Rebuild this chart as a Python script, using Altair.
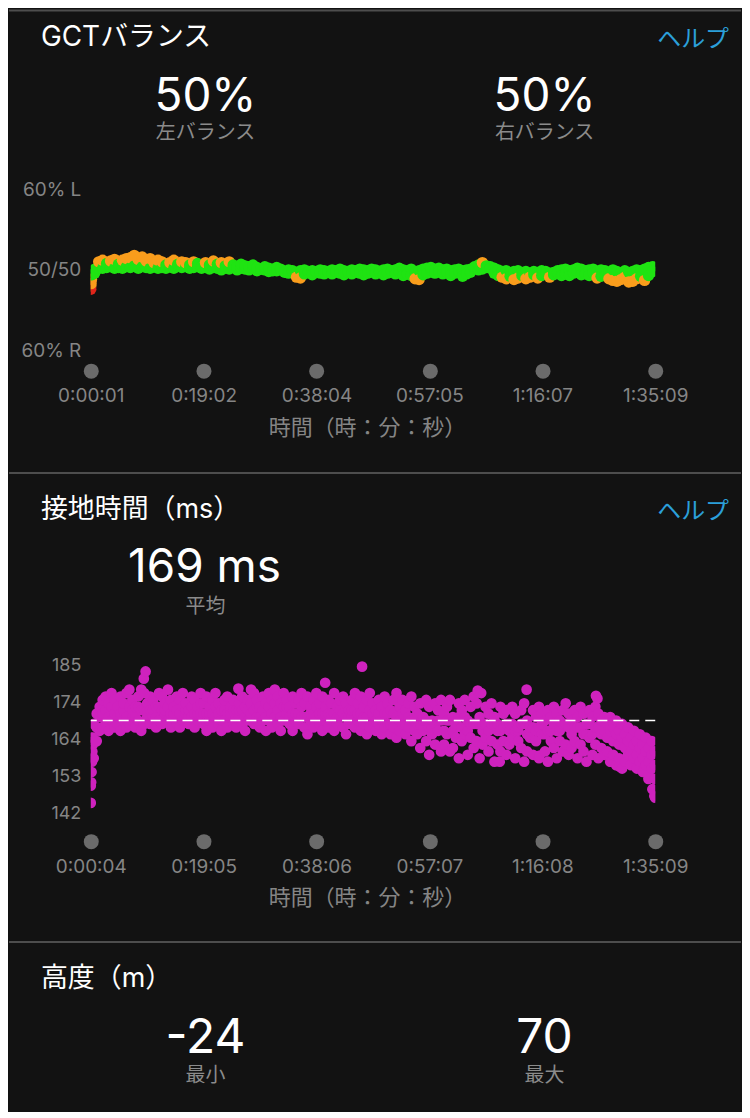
import altair as alt
import pandas as pd

# ------------------------------------------------------------------ values
left_balance = 50
right_balance = 50
avg_contact = 169
elev_min = -24
elev_max = 70

gct_xticks = [1, 1142, 2284, 3425, 4567, 5709]
ct_xticks = [4, 1145, 2286, 3427, 4568, 5709]
gct_yticks = [40, 50, 60]
gct_ylabels = ["60% R", "50/50", "60% L"]
ct_yticks = [142, 152.75, 163.5, 174.25, 185]

# GCT balance (left %), sampled every 40 s
gct_t = list(range(1, 5710, 40))
gct_a = [48.9, 50.1, 50.2, 50.2, 50.3, 50.4, 50.2, 50.3, 50.2, 50.4,
         50.3, 50.5, 50.2, 50.4, 50.3, 50.2, 50.4, 50.2, 50.3, 50.2,
         50.4, 50.2, 50.5, 50.3, 50.4, 50.2, 50.3, 50.4, 50.2, 50.3,
         50.1, 50.3, 50.2, 50.0, 50.2, 50.1, 50.3, 50.0, 50.2, 50.1,
         50.0, 50.2, 49.9, 50.1, 50.0, 49.8, 50.1, 49.9, 50.0, 49.8,
         50.0, 49.9, 49.7, 49.9, 50.0, 49.8, 49.9, 49.7, 50.0, 49.9,
         49.8, 50.0, 49.9, 50.1, 49.9, 49.8, 50.0, 49.9, 50.1, 50.0,
         49.9, 50.1, 50.0, 49.8, 50.0, 50.1, 49.9, 50.0, 50.2, 50.0,
         49.9, 50.1, 49.7, 49.9, 50.1, 50.2, 50.0, 50.1, 50.2, 50.0,
         50.1, 49.9, 50.0, 50.1, 49.9, 50.0, 50.1, 50.2, 50.0, 50.1,
         50.3, 50.4, 50.2, 50.0, 49.8, 49.9, 49.7, 49.8, 49.9, 49.7,
         49.8, 49.6, 49.8, 49.7, 49.9, 49.8, 49.6, 49.7, 49.9, 50.0,
         50.1, 49.9, 50.0, 50.2, 50.1, 49.9, 50.0, 50.1, 49.8, 50.0,
         49.9, 49.7, 50.0, 49.8, 49.6, 49.9, 49.7, 49.8, 50.0, 49.9,
         50.1, 50.3, 50.4]
gct_b = [48.0, 49.6, 51.0, 51.2, 50.8, 51.1, 51.3, 50.7, 51.2, 51.4,
         51.5, 51.8, 51.3, 51.6, 51.1, 51.4, 50.9, 51.2, 51.0, 50.6,
         50.9, 51.2, 50.7, 51.0, 50.9, 50.6, 51.0, 50.8, 50.5, 50.9,
         50.6, 51.1, 50.7, 50.9, 50.5, 51.0, 50.6, 50.4, 50.7, 50.5,
         50.4, 50.6, 50.3, 50.1, 50.4, 50.2, 49.9, 50.3, 50.1, 49.7,
         49.6, 49.8, 49.1, 49.0, 49.5, 49.7, 49.4, 49.8, 49.6, 49.5,
         49.7, 49.5, 49.8, 49.6, 49.4, 49.7, 49.5, 49.8, 49.6, 49.4,
         49.6, 49.8, 49.5, 49.7, 49.4, 49.6, 49.8, 49.5, 49.7, 49.3,
         49.5, 49.3, 48.9, 48.8, 49.4, 49.6, 50.3, 49.6, 49.8, 49.5,
         49.7, 49.3, 49.6, 49.8, 49.2, 49.5, 49.7, 50.4, 50.6, 50.9,
         50.5, 50.2, 49.6, 49.3, 49.1, 48.9, 49.2, 48.8, 49.0, 49.3,
         48.9, 49.1, 49.4, 49.0, 49.3, 49.5, 49.1, 49.4, 49.6, 49.3,
         49.5, 49.3, 49.6, 49.7, 49.4, 49.5, 49.3, 49.6, 49.0, 49.2,
         49.3, 48.9, 48.7, 48.6, 48.8, 49.1, 48.5, 48.6, 48.9, 49.2,
         48.7, 49.3, 49.8]
gct_extra_t = [1, 4, 8, 12]
gct_extra_v = [47.6, 48.3, 48.8, 49.4]

# ground contact time (ms), sampled every 30 s
ct_t = list(range(4, 5710, 30))
ct_hi = [164, 168, 171, 173, 175, 176, 174, 177, 175, 173,
         176, 174, 177, 178, 175, 173, 176, 178, 177, 174,
         176, 175, 173, 177, 176, 174, 178, 175, 173, 176,
         175, 177, 174, 172, 176, 175, 173, 177, 174, 176,
         173, 175, 177, 174, 172, 175, 176, 173, 175, 172,
         174, 176, 173, 175, 178, 177, 175, 173, 176, 174,
         177, 175, 178, 176, 174, 177, 175, 173, 176, 174,
         175, 177, 174, 176, 173, 175, 177, 174, 176, 173,
         175, 174, 177, 173, 175, 176, 174, 172, 175, 177,
         174, 176, 173, 175, 177, 174, 172, 175, 173, 176,
         174, 172, 175, 177, 173, 175, 172, 174, 176, 173,
         171, 174, 170, 175, 173, 169, 174, 172, 175, 171,
         173, 175, 170, 168, 174, 172, 175, 169, 173, 176,
         174, 170, 168, 173, 171, 174, 170, 168, 173, 171,
         172, 168, 173, 171, 167, 172, 174, 169, 167, 172,
         170, 173, 171, 169, 172, 170, 173, 171, 169, 172,
         174, 171, 169, 172, 170, 173, 171, 168, 172, 170,
         173, 171, 169, 170, 168, 170, 167, 169, 166, 168,
         165, 167, 164, 166, 163, 165, 162, 164, 161, 163,
         160]
ct_mid = [158, 163, 167, 170, 171, 172, 170, 173, 171, 170,
          171, 172, 170, 173, 172, 170, 173, 172, 172, 172,
          172, 172, 170, 173, 172, 172, 173, 171, 171, 172,
          171, 173, 172, 170, 173, 171, 171, 174, 171, 171,
          171, 171, 173, 171, 169, 172, 171, 171, 172, 170,
          172, 172, 170, 172, 174, 172, 173, 170, 172, 170,
          173, 171, 174, 172, 170, 173, 173, 170, 171, 171,
          171, 173, 170, 170, 171, 171, 173, 171, 171, 171,
          171, 171, 171, 170, 172, 171, 170, 170, 172, 172,
          171, 171, 170, 170, 172, 171, 169, 171, 169, 171,
          171, 168, 171, 170, 169, 171, 168, 170, 169, 169,
          168, 168, 169, 169, 167, 167, 168, 169, 169, 166,
          169, 169, 166, 167, 170, 167, 170, 166, 168, 168,
          168, 168, 166, 168, 166, 168, 168, 166, 166, 167,
          168, 166, 168, 166, 166, 168, 168, 165, 166, 167,
          166, 167, 168, 165, 166, 166, 168, 166, 166, 168,
          168, 167, 165, 167, 167, 167, 165, 165, 168, 165,
          167, 167, 165, 166, 164, 166, 163, 165, 162, 164,
          161, 163, 160, 162, 159, 161, 158, 160, 157, 159,
          156]
ct_lo = [150, 158, 163, 166, 167, 168, 166, 169, 167, 168,
         166, 169, 167, 168, 170, 167, 169, 166, 168, 170,
         168, 170, 167, 169, 168, 171, 169, 167, 170, 168,
         167, 169, 171, 168, 170, 167, 169, 171, 168, 166,
         169, 167, 170, 168, 166, 169, 167, 170, 168, 167,
         170, 168, 166, 169, 171, 168, 170, 167, 169, 166,
         169, 167, 170, 168, 166, 169, 171, 168, 166, 169,
         168, 170, 167, 165, 169, 167, 170, 168, 166, 169,
         167, 169, 166, 168, 170, 167, 165, 168, 170, 167,
         169, 166, 168, 165, 167, 169, 166, 168, 165, 167,
         168, 165, 167, 164, 166, 168, 165, 167, 163, 166,
         165, 161, 166, 163, 159, 165, 162, 166, 160, 162,
         165, 160, 161, 164, 158, 163, 165, 159, 164, 161,
         163, 158, 162, 164, 160, 163, 157, 162, 160, 163,
         159, 162, 164, 158, 163, 161, 157, 160, 164, 159,
         163, 158, 165, 160, 157, 163, 161, 158, 163, 160,
         162, 159, 161, 163, 158, 162, 160, 157, 164, 159,
         162, 158, 161, 159, 160, 157, 159, 156, 158, 155,
         157, 159, 156, 158, 155, 157, 154, 156, 153, 155,
         152]
ct_extra_t = [4, 8, 12, 16, 20, 24, 28, 558, 540, 1496, 2373, 2746, 3915,
              3950, 4409, 5125, 5110, 4137, 4540, 5346, 5266, 5640, 5680,
              5700, 5709]
ct_extra_v = [145, 151, 154, 157, 160, 162, 164, 183.3, 181.2, 178.3, 180,
              184.7, 177.7, 177, 178, 175.4, 176.2, 157, 158.8, 155.6, 157,
              152, 149, 147, 146.5]

# ------------------------------------------------------------------ tables
gct_rows = []
for t, a, b in zip(gct_t, gct_a, gct_b):
    gct_rows.append({"t": t, "bal": a})
    gct_rows.append({"t": t, "bal": b})
for t, v in zip(gct_extra_t, gct_extra_v):
    gct_rows.append({"t": t, "bal": v})
gct_df = pd.DataFrame(gct_rows).sort_values("t", kind="stable")

ct_rows = []
for t, h, m, l in zip(ct_t, ct_hi, ct_mid, ct_lo):
    ct_rows += [{"t": t, "ms": l}, {"t": t, "ms": m}, {"t": t, "ms": h}]
for t, v in zip(ct_extra_t, ct_extra_v):
    ct_rows.append({"t": t, "ms": v})
ct_df = pd.DataFrame(ct_rows).sort_values("t", kind="stable")
avg_df = pd.DataFrame({"avg": [avg_contact]})
one = pd.DataFrame({"k": [0]})

# ------------------------------------------------------------------ style
FONT = "Inter, 'Noto Sans CJK JP', sans-serif"
BG = "#121212"
WHITE = "#ffffff"
GREY = "#8b8b8b"
AXGREY = "#858585"
BLUE = "#2b9fd9"
LEFT = 90
W = 566
PAGE_L, PAGE_R = 8, 742


def txt(s, x, y, size, color, align="center"):
    return alt.Chart(one).mark_text(
        text=s, font=FONT, fontSize=size, color=color, align=align,
        baseline="alphabetic").encode(x=alt.value(x), y=alt.value(y))


def bg(y0, y1):
    return alt.Chart(one).mark_rect(color=BG).encode(
        x=alt.value(PAGE_L - LEFT), x2=alt.value(PAGE_R - LEFT),
        y=alt.value(y0), y2=alt.value(y1))


def sep(y):
    return alt.Chart(one).mark_rule(color="#4d4d4d", strokeWidth=2).encode(
        x=alt.value(PAGE_L - LEFT), x2=alt.value(PAGE_R - LEFT), y=alt.value(y))


def x_axis(ticks, dot_offset):
    return alt.Axis(
        values=ticks, labelExpr="utcFormat(datum.value * 1000, '%-H:%M:%S')",
        offset=dot_offset, domain=False, grid=False, ticks=True, tickSize=0.1,
        tickWidth=15, tickCap="round", tickColor="#6b6b6b",
        labelFont=FONT, labelFontSize=19, labelColor=AXGREY, labelPadding=31,
        labelBaseline="alphabetic", labelFlush=False, labelOverlap=False,
        title="時間（時：分：秒）", titleFont=FONT, titleFontSize=22,
        titleFontWeight="normal", titleColor=AXGREY, titleBaseline="alphabetic",
        titleY=64, titleX=277, zindex=1)


# ------------------------------------------------------------------ panel 1
g_lo, g_hi = 39, 61
g_px = 162 / 20
H1 = (g_hi - g_lo) * g_px
TOP1 = 188 - (g_hi - 60) * g_px
r1 = lambda py: py - TOP1

ylab_expr = " : ".join(
    f"datum.value == {v} ? '{s}'" for v, s in zip(gct_yticks[:-1], gct_ylabels[:-1])
) + f" : '{gct_ylabels[-1]}'"

gct_pts = alt.Chart(gct_df).transform_calculate(
    zone="abs(datum.bal - 50) > 2.2 ? 'R' : (abs(datum.bal - 50) > 0.8 ? 'O' : 'G')"
).mark_circle(size=130, opacity=1, clip=True).encode(
    x=alt.X("t:Q", scale=alt.Scale(domain=[gct_xticks[0], gct_xticks[-1]], nice=False, zero=False),
            axis=x_axis(gct_xticks, 370 - (TOP1 + H1))),
    y=alt.Y("bal:Q", scale=alt.Scale(domain=[g_lo, g_hi], nice=False, zero=False),
            axis=alt.Axis(values=gct_yticks, labelExpr=ylab_expr, domain=False, ticks=False,
                          grid=False, labelPadding=10, labelFont=FONT, labelFontSize=19,
                          labelColor=AXGREY, title=None, zindex=1)),
    color=alt.Color("zone:N", scale=alt.Scale(domain=["G", "O", "R"],
                                              range=["#1fe312", "#f99d1c", "#e0261b"]),
                    legend=None),
)

p1 = alt.layer(
    bg(r1(8), r1(470)),
    sep(r1(9)),
    txt("GCTバランス", 40 - LEFT, r1(45), 28, WHITE, "left"),
    txt("ヘルプ", 730 - LEFT, r1(46), 24, BLUE, "right"),
    txt(f"{left_balance}%", 205 - LEFT, r1(110), 46, WHITE),
    txt("左バランス", 205 - LEFT, r1(138), 20, GREY),
    txt(f"{right_balance}%", 545 - LEFT, r1(110), 46, WHITE),
    txt("右バランス", 545 - LEFT, r1(138), 20, GREY),
    gct_pts,
).properties(width=W, height=H1)

# ------------------------------------------------------------------ panel 2
c_lo, c_hi = 140, 187
c_px = 148 / 43
H2 = (c_hi - c_lo) * c_px
TOP2 = 664 - (c_hi - 185) * c_px
r2 = lambda py: py - TOP2

c_xscale = alt.Scale(domain=[ct_xticks[0], ct_xticks[-1]], nice=False, zero=False)
c_yscale = alt.Scale(domain=[c_lo, c_hi], nice=False, zero=False)

ct_pts = alt.Chart(ct_df).mark_circle(size=115, opacity=1, clip=True, color="#cf22be").encode(
    x=alt.X("t:Q", scale=c_xscale, axis=x_axis(ct_xticks, 840 - (TOP2 + H2))),
    y=alt.Y("ms:Q", scale=c_yscale,
            axis=alt.Axis(values=ct_yticks, labelExpr="round(datum.value)", domain=False,
                          ticks=False, grid=False, labelPadding=10, labelFont=FONT,
                          labelFontSize=18, labelColor=AXGREY, title=None, zindex=1)),
)
avg_rule = alt.Chart(avg_df).mark_rule(color=WHITE, strokeDash=[10, 6], strokeWidth=1.5).encode(
    y=alt.Y("avg:Q", scale=c_yscale))

p2 = alt.layer(
    bg(r2(470), r2(940)),
    sep(r2(471)),
    txt("接地時間（ms）", 40 - LEFT, r2(516), 27, WHITE, "left"),
    txt("ヘルプ", 730 - LEFT, r2(517), 24, BLUE, "right"),
    txt(f"{avg_contact} ms", 204 - LEFT, r2(580), 46, WHITE),
    txt("平均", 205 - LEFT, r2(611), 20, GREY),
    ct_pts,
    avg_rule,
).properties(width=W, height=H2)

# ------------------------------------------------------------------ panel 3
TOP3 = 1000
r3 = lambda py: py - TOP3
p3 = alt.layer(
    bg(r3(940), r3(1110)),
    sep(r3(941)),
    txt("高度（m）", 40 - LEFT, r3(986), 27, WHITE, "left"),
    txt(f"{elev_min}", 205 - LEFT, r3(1052), 48, WHITE),
    txt("最小", 205 - LEFT, r3(1081), 20, GREY),
    txt(f"{elev_max}", 545 - LEFT, r3(1052), 48, WHITE),
    txt("最大", 545 - LEFT, r3(1081), 20, GREY),
).properties(width=W, height=100)

chart = alt.vconcat(p1, p2, p3, spacing=0).properties(
    padding=0, background=BG
).configure_view(strokeWidth=0)

chart.save("out.html", embed_options={"renderer": "svg", "actions": False})
